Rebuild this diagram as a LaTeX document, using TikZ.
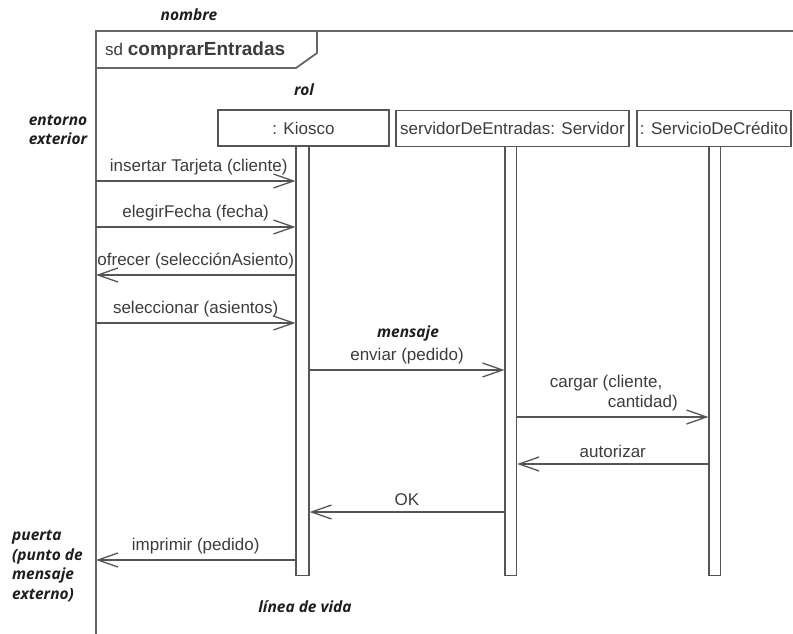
\documentclass[tikz,border=0pt]{standalone}
\usepackage{fontspec}
\setmainfont{Liberation Sans}
\newfontfamily\notefont{Open Sans}
\usetikzlibrary{arrows.meta}
\definecolor{ink}{HTML}{555555}
\definecolor{txt}{HTML}{3C3C3C}
\definecolor{notecol}{HTML}{1E1E1E}
\begin{document}
\begin{tikzpicture}[x=1pt, y=-1pt,
  frameline/.style={draw=ink!90, line width=1.8pt},
  lifehead/.style={draw=ink, line width=1.2pt, rectangle, minimum height=36pt,
    inner sep=0pt, text=txt, font=\fontsize{17}{20}\selectfont},
  actbar/.style={draw=ink, line width=1.2pt, fill=white, rectangle,
    minimum height=429pt, inner sep=0pt},
  msg/.style={draw=ink, line width=1.3pt,
    -{Straight Barb[length=20pt, width=14pt, line width=1.3pt]}},
  lbl/.style={text=txt, inner sep=0pt, font=\fontsize{17}{20}\selectfont},
  note/.style={text=notecol, inner sep=0pt,
    font=\notefont\bfseries\itshape\fontsize{15.5}{19.5}\selectfont}]

\useasboundingbox (0,0) rectangle (793,634);

% interaction frame and its name tab
\draw[frameline] (793,31) -- (96,31) -- (96,634);
\draw[frameline] (96,68) -- (296,68) -- (317,53) -- (317,31);
\node[anchor=base west, inner sep=0pt, text=txt] (title) at (105,56)
  {\fontsize{17}{20}\selectfont sd \fontsize{19}{20}\selectfont\bfseries comprarEntradas};

% lifeline heads
\node[lifehead, minimum width=171pt] (kiosco) at (303.5,128) {: Kiosco};
\node[lifehead, minimum width=233pt] (servidor) at (512.5,128.5) {servidorDeEntradas: Servidor};
\node[lifehead, minimum width=154pt] (credito) at (714,128.5) {: ServicioDeCrédito};

% activation bars
\node[actbar, minimum width=13pt, anchor=north] (kbar) at (302.5,146) {};
\node[actbar, minimum width=11.5pt, anchor=north] (sbar) at (510.8,146) {};
\node[actbar, minimum width=11.5pt, anchor=north] (cbar) at (714.8,146) {};

% gate side of the frame and message levels
\coordinate (gate) at (96,0);
\coordinate (m1) at (0,181);
\coordinate (m2) at (0,227);
\coordinate (m3) at (0,275);
\coordinate (m4) at (0,323);
\coordinate (m5) at (0,370);
\coordinate (m6) at (0,417);
\coordinate (m7) at (0,464);
\coordinate (m8) at (0,512);
\coordinate (m9) at (0,560);

% messages
\draw[msg] (gate |- m1) -- node[lbl, above=5.5pt, xshift=3pt] {insertar Tarjeta (cliente)} (kbar.west |- m1);
\draw[msg] (gate |- m2) -- node[lbl, above=5.5pt] {elegirFecha (fecha)} (kbar.west |- m2);
\draw[msg] (kbar.west |- m3) -- node[lbl, above=5.5pt] {ofrecer (selecciónAsiento)} (gate |- m3);
\draw[msg] (gate |- m4) -- node[lbl, above=5.5pt] {seleccionar (asientos)} (kbar.west |- m4);
\draw[msg] (kbar.east |- m5) -- node[lbl, above=5.5pt] (enviar) {enviar (pedido)} (sbar.west |- m5);
\draw[msg] (sbar.east |- m6) -- node[lbl, above=5.5pt, align=left, xshift=1pt]
  {cargar (cliente,\\\hspace*{58pt}cantidad)} (cbar.west |- m6);
\draw[msg] (cbar.west |- m7) -- node[lbl, above=5.5pt] {autorizar} (sbar.east |- m7);
\draw[msg] (sbar.west |- m8) -- node[lbl, above=5.5pt] {OK} (kbar.east |- m8);
\draw[msg] (kbar.west |- m9) -- node[lbl, above=5.5pt] {imprimir (pedido)} (gate |- m9);

% annotations
\node[note] (nombre) at (189,15) {nombre};
\node[note] (rol) at (304,90) {rol};
\node[note, align=center] (entorno) at (58,130) {entorno\\exterior};
\node[note] (mensaje) at (408,333) {mensaje};
\node[note, align=left, anchor=west] (puerta) at (12,566) {puerta\\(punto de\\mensaje\\externo)};
\node[note] (vida) at (305,607) {línea de vida};
\end{tikzpicture}
\end{document}
